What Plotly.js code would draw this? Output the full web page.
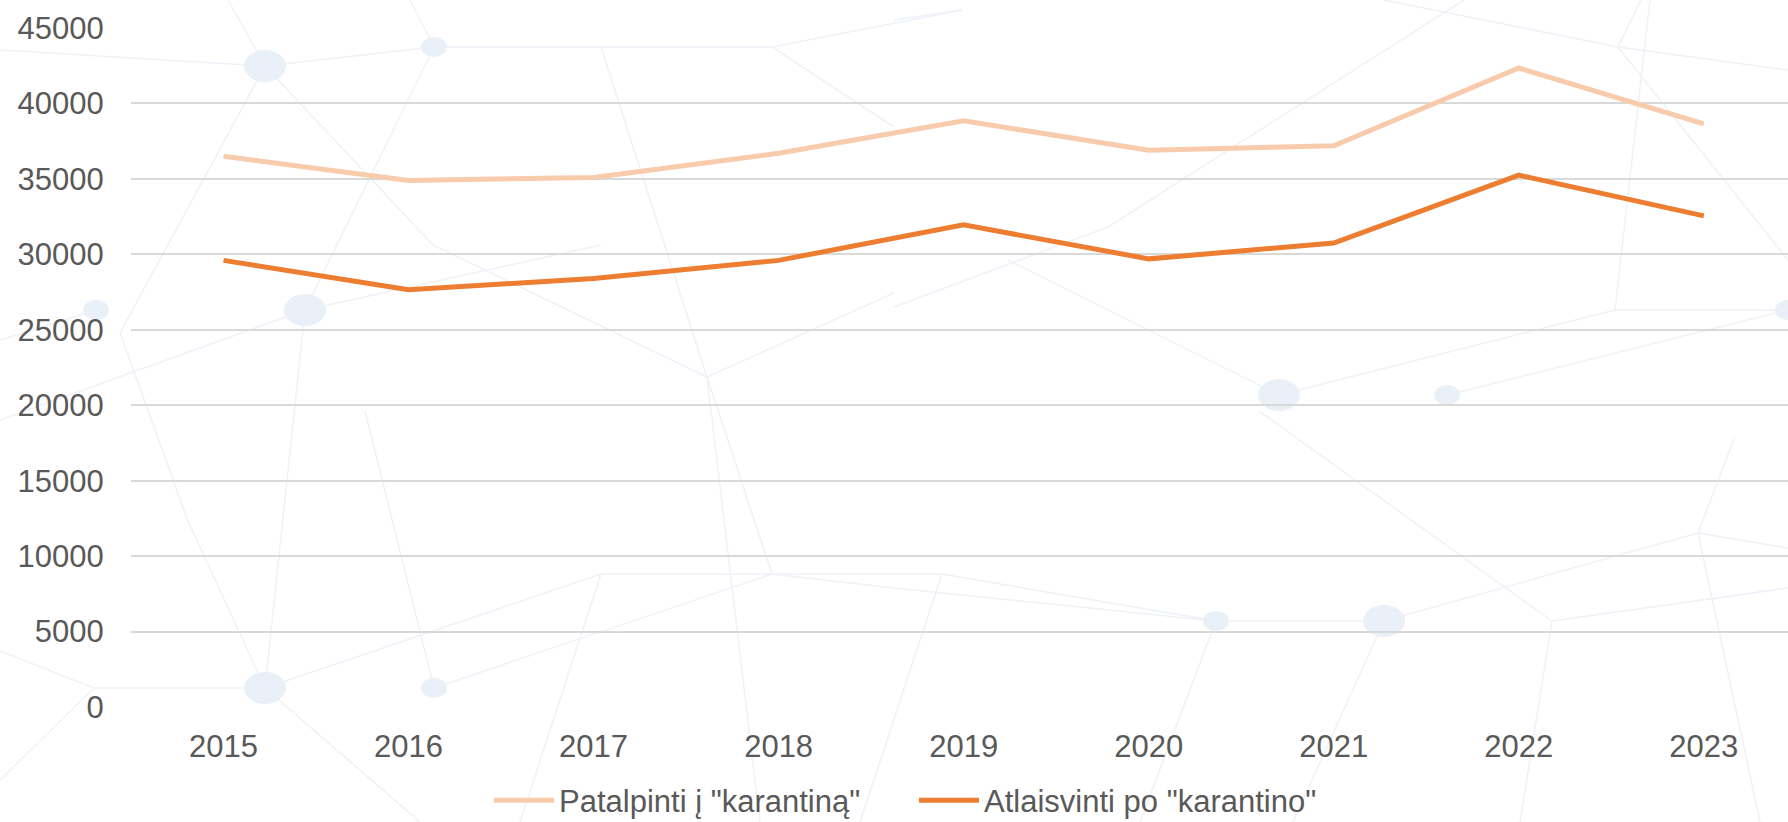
<!DOCTYPE html>
<html>
<head>
<meta charset="utf-8">
<script src="https://cdn.plot.ly/plotly-3.0.1.min.js"></script>
<style>
  html, body { margin: 0; padding: 0; background: #ffffff; }
  #chart { width: 1788px; height: 822px; }
</style>
</head>
<body>
<div id="chart"></div>
<script>
// ---- data ----
const years = ['2015', '2016', '2017', '2018', '2019', '2020', '2021', '2022', '2023'];
const patalpinti = [36500, 34900, 35100, 36700, 38850, 36900, 37200, 42350, 38650];
const atlaisvinti = [29600, 27650, 28400, 29600, 31950, 29700, 30750, 35250, 32550];
const seriesNames = ['Patalpinti į "karantiną"', 'Atlaisvinti po "karantino"'];
const yTicks = [0, 5000, 10000, 15000, 20000, 25000, 30000, 35000, 40000, 45000];

// ---- decorative background (network pattern), page pixel coords ----
const W = 1788, H = 822;
const PL = 131, PT = 28, PB = 115, PR = 0;
const plotW = W - PL - PR, plotH = H - PT - PB;
const bgNodes = [
  [265, 66, 21, 16], [434, 47, 13, 10], [96, 310, 13, 10], [305, 310, 21, 16],
  [1279, 395, 21, 16], [1447, 395, 13, 10], [1788, 310, 13, 10],
  [265, 688, 21, 16], [434, 688, 13, 10], [1216, 621, 13, 10], [1384, 621, 21, 16]
];
const bgEdges = [
  [[0,50],[265,66]], [[265,66],[434,47]], [[434,47],[772,47]], [[772,47],[962,10]],
  [[228,0],[265,66]], [[265,66],[120,333]], [[265,66],[433,245]], [[434,47],[305,310]],
  [[410,0],[434,47]], [[305,310],[601,245]], [[433,245],[707,377]], [[601,47],[707,377]],
  [[772,47],[894,127]], [[96,310],[0,340]], [[0,420],[305,310]], [[305,310],[265,688]],
  [[120,333],[188,521]], [[188,521],[265,688]], [[0,651],[94,688]], [[94,688],[265,688]],
  [[265,688],[601,574]], [[434,688],[772,574]], [[601,574],[894,574]], [[772,574],[894,588]],
  [[434,688],[365,411]], [[265,688],[420,822]], [[94,688],[0,780]], [[601,574],[520,822]],
  [[707,377],[894,293]], [[707,377],[772,574]],
  [[894,574],[942,574]], [[942,574],[1216,621]], [[894,588],[1216,621]], [[1216,621],[1384,621]],
  [[1384,621],[1698,533]], [[1552,621],[1788,588]], [[1698,533],[1788,548]], [[1259,411],[1552,621]],
  [[1384,621],[1293,822]], [[1735,436],[1698,533]], [[1698,533],[1760,822]],
  [[894,20],[962,10]], [[1384,0],[1618,47]], [[1618,47],[1788,70]], [[1641,0],[1618,47]],
  [[1618,47],[1788,260]], [[894,307],[1108,227]], [[1108,227],[1464,0]], [[1008,260],[1279,395]],
  [[1279,395],[1615,310]], [[1447,395],[1788,310]], [[1615,310],[1788,310]], [[1615,310],[1650,0]],
  [[1216,621],[1140,822]], [[942,574],[860,822]], [[1552,621],[1520,822]], [[707,377],[760,822]]
];
const fx = px => (px - PL) / plotW;
const fy = py => (PT + plotH - py) / plotH;
const shapes = [];
bgEdges.forEach(e => {
  shapes.push({type: 'line', xref: 'paper', yref: 'paper', layer: 'below',
    x0: fx(e[0][0]), y0: fy(e[0][1]), x1: fx(e[1][0]), y1: fy(e[1][1]),
    line: {color: '#EEF2F8', width: 1.5}});
});
bgNodes.forEach(n => {
  shapes.push({type: 'circle', xref: 'paper', yref: 'paper', layer: 'below',
    x0: fx(n[0] - n[2]), x1: fx(n[0] + n[2]), y0: fy(n[1] + n[3]), y1: fy(n[1] - n[3]),
    fillcolor: '#E9F0F7', line: {width: 0}});
});

const font = {family: 'Arial, "Liberation Sans", sans-serif', size: 31, color: '#595959'};

const traces = [
  {x: years, y: patalpinti, name: seriesNames[0], type: 'scatter', mode: 'lines',
   line: {color: '#F8CBAD', width: 5}},
  {x: years, y: atlaisvinti, name: seriesNames[1], type: 'scatter', mode: 'lines',
   line: {color: '#ED7D31', width: 5}}
];

const layout = {
  width: W, height: H,
  margin: {l: PL, r: PR, t: PT, b: PB, pad: 0},
  paper_bgcolor: '#ffffff', plot_bgcolor: 'rgba(0,0,0,0)',
  font: font,
  showlegend: true,
  legend: {orientation: 'h', xref: 'container', yref: 'container', x: 0.2735, xanchor: 'left',
           y: 0.026, yanchor: 'middle', font: font, itemwidth: 60, entrywidth: 350,
           bgcolor: 'rgba(0,0,0,0)', traceorder: 'normal'},
  xaxis: {type: 'category', range: [-0.5, 8.455], showgrid: false, zeroline: false,
          showline: false, ticks: 'outside', ticklen: 12, tickcolor: 'rgba(0,0,0,0)',
          tickfont: font, fixedrange: true},
  yaxis: {range: [0, 45000], tickvals: yTicks, ticktext: yTicks.map(String),
          showgrid: true, gridcolor: '#D9D9D9', gridwidth: 2, zeroline: false,
          showline: false, ticks: 'outside', ticklen: 20, tickcolor: 'rgba(0,0,0,0)',
          tickfont: font, fixedrange: true},
  shapes: shapes
};

Plotly.newPlot('chart', traces, layout, {displayModeBar: false, staticPlot: true});
</script>
</body>
</html>
